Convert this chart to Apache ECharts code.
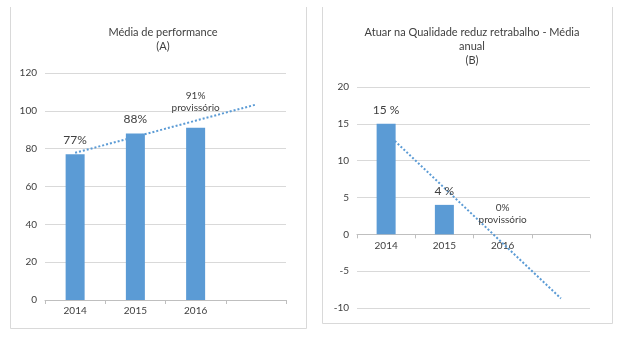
<!DOCTYPE html>
<html>
<head>
<meta charset="utf-8">
<script src="https://cdn.jsdelivr.net/npm/echarts@6/dist/echarts.min.js"></script>
<style>
  html, body { margin: 0; padding: 0; background: #fff; }
  #chart { width: 624px; height: 337px; }
</style>
</head>
<body>
<div id="chart"></div>
<script>
// Categories (the fourth slot is left empty so the trend line can run past 2016)
const categories = ['2014', '2015', '2016', ''];

// (A) Média de performance
const perfValues = [77, 88, 91];
const perfLabels = ['77%', '88%', '91%'];
const perfTrend = [77.8, 86.3, 94.8, 103.3];
const perfTicks = [0, 20, 40, 60, 80, 100, 120];

// (B) Retrabalho - média anual
const reworkValues = [15, 4, 0];
const reworkLabels = ['15 %', '4 %', '0%'];
const reworkTrend = [13.8, 6.3, -1.2, -8.7];
const reworkTicks = [-10, -5, 0, 5, 10, 15, 20];

const provisional = 'provissório';
const FONT = 'Lato, "Open Sans", sans-serif';
const BLUE = '#5b9bd5';
const TXT = '#404040';

// Plot areas
const gridA = { left: 45, right: 338, top: 73, bottom: 37 };
const gridB = { left: 357, right: 34, top: 87, bottom: 29 };
const H = 337;

function barData(values, labels, dist) {
  return values.map((v, i) => {
    const last = i === values.length - 1;
    return {
      value: v,
      label: {
        show: true,
        position: 'top',
        distance: last ? dist : 8,
        formatter: last ? '{v|' + labels[i] + '}\n{p|' + provisional + '}' : labels[i],
        rich: {
          v: { fontSize: 10, color: TXT, fontFamily: FONT, lineHeight: 12, align: 'center' },
          p: { fontSize: 10, color: TXT, fontFamily: FONT, lineHeight: 12, align: 'center' }
        }
      }
    };
  });
}

// Category axis; for a value range that crosses zero it is shifted up to the zero line
function catAxis(gridIndex, grid, ticks) {
  const lo = ticks[0], hi = ticks[ticks.length - 1];
  const plotH = H - grid.top - grid.bottom;
  const shift = lo < 0 ? (0 - lo) / (hi - lo) * plotH : 0;
  return {
    type: 'category',
    gridIndex,
    data: categories,
    boundaryGap: true,
    offset: -shift,
    axisLine: { show: true, onZero: false, lineStyle: { color: '#bfbfbf', width: 1 } },
    axisTick: { show: true, length: 4, lineStyle: { color: '#bfbfbf' } },
    axisLabel: { color: TXT, fontSize: 10, fontFamily: FONT, margin: 6 }
  };
}

const valAxis = (gridIndex, ticks) => ({
  type: 'value',
  gridIndex,
  min: ticks[0],
  max: ticks[ticks.length - 1],
  interval: ticks[1] - ticks[0],
  axisLine: { show: false },
  axisTick: { show: false },
  axisLabel: { color: TXT, fontSize: 10, fontFamily: FONT, margin: 8 },
  splitLine: { lineStyle: { color: '#d9d9d9', width: 1 } }
});

const trendStyle = { color: BLUE, width: 2, type: [2, 2] };

const chart = echarts.init(document.getElementById('chart'), null, { renderer: 'canvas' });
chart.setOption({
  animation: false,
  backgroundColor: '#ffffff',
  title: [
    {
      text: 'Média de performance\n(A)',
      left: 158, top: 20, textAlign: 'center',
      textStyle: { fontSize: 11, fontWeight: 'normal', color: TXT, fontFamily: FONT, lineHeight: 14 }
    },
    {
      text: 'Atuar na Qualidade reduz retrabalho - Média\nanual\n(B)',
      left: 467, top: 20, textAlign: 'center',
      textStyle: { fontSize: 11, fontWeight: 'normal', color: TXT, fontFamily: FONT, lineHeight: 14 }
    }
  ],
  graphic: [
    { type: 'polyline', shape: { points: [[10.5, 7], [10.5, 328.5], [306.5, 328.5], [306.5, 7]] },
      style: { stroke: '#d9d9d9', fill: null, lineWidth: 1 }, silent: true },
    { type: 'polyline', shape: { points: [[322.5, 7], [322.5, 323.5], [612.5, 323.5], [612.5, 7]] },
      style: { stroke: '#d9d9d9', fill: null, lineWidth: 1 }, silent: true }
  ],
  grid: [gridA, gridB],
  xAxis: [catAxis(0, gridA, perfTicks), catAxis(1, gridB, reworkTicks)],
  yAxis: [valAxis(0, perfTicks), valAxis(1, reworkTicks)],
  series: [
    {
      type: 'line', xAxisIndex: 0, yAxisIndex: 0, data: perfTrend,
      symbol: 'none', lineStyle: trendStyle, z: 1, silent: true
    },
    {
      type: 'bar', xAxisIndex: 0, yAxisIndex: 0, barWidth: 19,
      itemStyle: { color: BLUE }, z: 2,
      label: { color: TXT, fontSize: 12, fontFamily: FONT },
      data: barData(perfValues, perfLabels, 14)
    },
    {
      type: 'line', xAxisIndex: 1, yAxisIndex: 1, data: reworkTrend,
      symbol: 'none', lineStyle: trendStyle, z: 1, silent: true
    },
    {
      type: 'bar', xAxisIndex: 1, yAxisIndex: 1, barWidth: 19,
      itemStyle: { color: BLUE }, z: 2,
      label: { color: TXT, fontSize: 12, fontFamily: FONT },
      data: barData(reworkValues, reworkLabels, 9)
    }
  ]
});
</script>
</body>
</html>
